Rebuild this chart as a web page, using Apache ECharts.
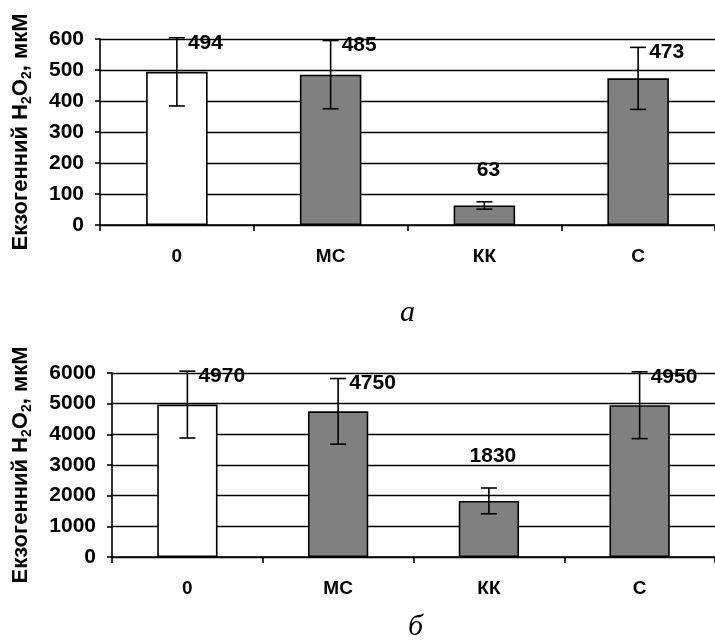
<!DOCTYPE html>
<html>
<head>
<meta charset="utf-8">
<script src="https://cdn.jsdelivr.net/npm/echarts@6/dist/echarts.min.js"></script>
<style>html,body{margin:0;padding:0;background:#fff}#c{width:715px;height:644px}</style>
</head>
<body>
<div id="c"></div>
<script>
// ---- data ----
var categories = ['0', 'МС', 'КК', 'С'];
var valuesA = [494, 485, 63, 473];
var errorsA = [110, 110, 12, 100];
var valuesB = [4970, 4750, 1830, 4950];
var errorsB = [1090, 1070, 420, 1090];
var yTicksA = { min: 0, max: 600, interval: 100 };
var yTicksB = { min: 0, max: 6000, interval: 1000 };
var panelLetters = ['а', 'б'];
var yTitle = '{t|Екзогенний H}{s|2}{t|O}{s|2}{t|, мкМ}';

// ---- styles ----
var FONT = 'Liberation Sans, Arial, sans-serif';
var aboveIndex = 2; // label placed above the error bar for this category

function barData(vals) {
  return vals.map(function (v, i) {
    return i === 0 ? { value: v, itemStyle: { color: '#ffffff' } } : v;
  });
}
function errData(vals, errs) {
  return vals.map(function (v, i) { return [i, v - errs[i], v + errs[i], v]; });
}
function renderErr(params, api) {
  var i = api.value(0);
  var lo = api.coord([i, api.value(1)]);
  var hi = api.coord([i, api.value(2)]);
  var cap = 8;
  var st = { stroke: '#000', lineWidth: 1.6 };
  var children = [
    { type: 'line', shape: { x1: hi[0], y1: hi[1], x2: lo[0], y2: lo[1] }, style: st },
    { type: 'line', shape: { x1: hi[0] - cap, y1: hi[1], x2: hi[0] + cap, y2: hi[1] }, style: st },
    { type: 'line', shape: { x1: lo[0] - cap, y1: lo[1], x2: lo[0] + cap, y2: lo[1] }, style: st }
  ];
  var txt = String(api.value(3));
  var ts = { text: txt, fill: '#000', font: 'bold 21px ' + FONT };
  if (params.dataIndex === aboveIndex) {
    ts.x = hi[0] + 4; ts.y = hi[1] - 32; ts.align = 'center'; ts.verticalAlign = 'middle';
  } else {
    ts.x = hi[0] + 11; ts.y = hi[1] + 5; ts.align = 'left'; ts.verticalAlign = 'middle';
  }
  children.push({ type: 'text', style: ts, z2: 10 });
  return { type: 'group', children: children };
}

function xAxis(gi) {
  return {
    type: 'category', gridIndex: gi, data: categories,
    axisLine: { lineStyle: { color: '#000', width: 1.6 } },
    axisTick: { show: true, length: 6, lineStyle: { color: '#000', width: 1.6 } },
    axisLabel: { color: '#000', fontFamily: FONT, fontWeight: 'bold', fontSize: 19, margin: 22 }
  };
}
function yAxis(gi, t, gap) {
  return {
    type: 'value', gridIndex: gi, min: t.min, max: t.max, interval: t.interval,
    name: yTitle, nameLocation: 'middle', nameRotate: 90, nameGap: gap,
    nameTextStyle: {
      rich: {
        t: { fontFamily: FONT, fontWeight: 'bold', fontSize: 22, color: '#000', lineHeight: 26 },
        s: { fontFamily: FONT, fontWeight: 'bold', fontSize: 14, color: '#000', verticalAlign: 'bottom', lineHeight: 15 }
      }
    },
    axisLine: { show: true, lineStyle: { color: '#000', width: 1.6 } },
    axisTick: { show: true, length: 5, lineStyle: { color: '#000', width: 1.6 } },
    axisLabel: { color: '#000', fontFamily: FONT, fontWeight: 'bold', fontSize: 21, margin: 16,
      formatter: function (v) { return String(v); } },
    splitLine: { show: true, lineStyle: { color: '#000', width: 1.4 } }
  };
}
function barSeries(gi, vals) {
  return {
    type: 'bar', xAxisIndex: gi, yAxisIndex: gi, data: barData(vals), barWidth: '40%',
    itemStyle: { color: '#808080', borderColor: '#000', borderWidth: 1.6 }, z: 3
  };
}
function errSeries(gi, vals, errs) {
  return {
    type: 'custom', xAxisIndex: gi, yAxisIndex: gi, data: errData(vals, errs),
    renderItem: renderErr, z: 5, clip: false
  };
}

var chart = echarts.init(document.getElementById('c'), null, { renderer: 'canvas' });
chart.setOption({
  animation: false,
  backgroundColor: '#fff',
  grid: [
    { left: 100, top: 39, width: 627, height: 186 },
    { left: 112, top: 373, width: 614, height: 184 }
  ],
  xAxis: [xAxis(0), xAxis(1)],
  yAxis: [yAxis(0, yTicksA, 66), yAxis(1, yTicksB, 78)],
  series: [
    barSeries(0, valuesA), errSeries(0, valuesA, errorsA),
    barSeries(1, valuesB), errSeries(1, valuesB, errorsB)
  ],
  graphic: [
    { type: 'text', left: 400, top: 298, style: { text: panelLetters[0], font: 'italic 30px Liberation Serif, Times New Roman, serif', fill: '#000' } },
    { type: 'text', left: 408, top: 612, style: { text: panelLetters[1], font: 'italic 30px Liberation Serif, Times New Roman, serif', fill: '#000' } }
  ]
});
</script>
</body>
</html>
